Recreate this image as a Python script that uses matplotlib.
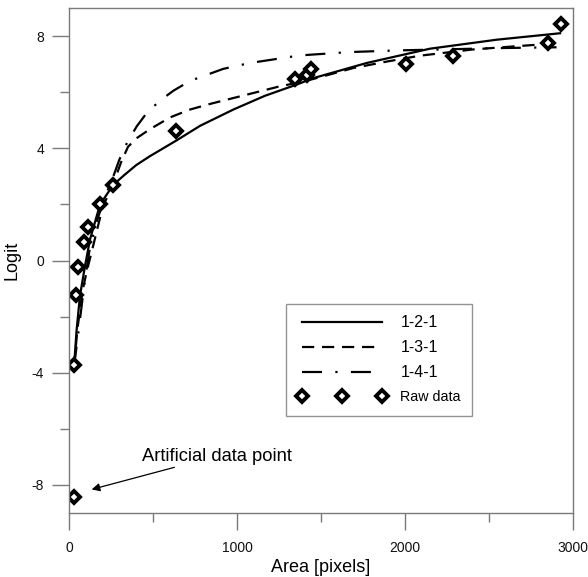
import matplotlib
matplotlib.use("Agg")
import matplotlib.pyplot as plt
from matplotlib.ticker import FixedLocator, FuncFormatter

plt.rcParams['font.family'] = ['Liberation Sans', 'DejaVu Sans']

# Raw observations (area in pixels, logit)
raw_area = [30, 30, 42, 55, 89, 115, 185, 264, 635, 1345, 1415, 1438, 2006, 2284, 2853, 2927]
raw_logit = [-8.42, -3.74, -1.23, -0.24, 0.66, 1.19, 2.02, 2.68, 4.6, 6.47, 6.62, 6.84, 7.02, 7.30, 7.75, 8.44]

# Network fits, sampled along the area axis
fit_121_area = [30, 45, 65, 95, 125, 185, 264, 330, 400, 482, 640, 780, 978, 1166, 1355, 1454,
                1772, 2149, 2546, 2923]
fit_121_logit = [-3.78, -2.5, -1.27, -0.2, 0.75, 2.0, 2.7, 3.05, 3.4, 3.72, 4.28, 4.8, 5.38, 5.87,
                 6.27, 6.5, 7.04, 7.55, 7.87, 8.1]

fit_131_area = [30, 50, 80, 105, 145, 200, 264, 310, 351, 400, 482, 601, 720, 839, 978, 1097,
                1256, 1355, 1454, 1692, 1891, 2089, 2400, 2645, 2923]
fit_131_logit = [-3.78, -2.45, -1.1, -0.4, 0.55, 1.9, 2.75, 3.5, 4.05, 4.35, 4.68, 5.1, 5.38, 5.58,
                 5.79, 5.97, 6.21, 6.33, 6.47, 6.86, 7.09, 7.3, 7.52, 7.63, 7.75]

fit_141_area = [30, 55, 90, 120, 160, 210, 264, 300, 345, 403, 464, 542, 621, 720, 918, 1077,
                1375, 1672, 1970, 2345, 2546, 2902]
fit_141_logit = [-3.78, -2.6, -0.9, 0.3, 1.3, 2.2, 3.0, 3.6, 4.19, 4.78, 5.27, 5.7, 6.05, 6.4,
                 6.83, 7.04, 7.31, 7.43, 7.49, 7.54, 7.57, 7.6]

x_major = [0, 1000, 2000, 3000]
x_minor = [500, 1500, 2500]
y_major = [-8, -4, 0, 4, 8]
y_minor = [-6, -2, 2, 6]

fig = plt.figure(figsize=(5.88, 5.77), dpi=100)
ax = fig.add_axes([69 / 588, 64 / 577, 504 / 588, 505 / 577])

lw = 1.6
ax.plot(fit_121_area, fit_121_logit, color='black', lw=lw, ls='-', label='1-2-1')
ax.plot(fit_131_area, fit_131_logit, color='black', lw=lw, ls=(0, (5.5, 3.5)), label='1-3-1')
ax.plot(fit_141_area, fit_141_logit, color='black', lw=lw, ls=(0, (9, 6, 1, 6)), label='1-4-1')
ax.plot(raw_area, raw_logit, ls='none', marker='D', ms=6.3, mew=2.8,
        mec='black', mfc='white', label='Raw data')

ax.set_xlim(0, 3000)
ax.set_ylim(-9, 9)

ax.xaxis.set_major_locator(FixedLocator(x_major))
ax.xaxis.set_minor_locator(FixedLocator(x_minor))
ax.yaxis.set_major_locator(FixedLocator(y_major))
ax.yaxis.set_minor_locator(FixedLocator(y_minor))
ax.yaxis.set_major_formatter(FuncFormatter(lambda v, p: f"{int(v)}"))
ax.xaxis.set_major_formatter(FuncFormatter(lambda v, p: f"{int(v)}"))

spine_col = '#7a7a7a'
for s in ax.spines.values():
    s.set_color(spine_col)
    s.set_linewidth(1.0)

ax.tick_params(which='major', direction='out', length=12, width=1.0, color=spine_col,
               labelsize=10, labelcolor='#111111')
ax.tick_params(which='minor', direction='out', length=6.5, width=1.0, color=spine_col)
ax.tick_params(axis='y', which='major', pad=6)
ax.tick_params(axis='x', which='major', pad=8)

ax.set_xlabel('Area [pixels]', fontsize=13, labelpad=3)
ax.set_ylabel('Logit', fontsize=13, labelpad=8)

ax.annotate('Artificial data point', xy=(135, -8.16), xytext=(433, -6.97),
            fontsize=13.2, ha='left', va='center',
            arrowprops=dict(arrowstyle='-|>', color='black', lw=0.9,
                            mutation_scale=12, shrinkA=0, shrinkB=0),
            )

leg = ax.legend(loc='upper left', bbox_to_anchor=((286 - 69) / 504, (513 - 304) / 505),
                numpoints=3, handlelength=6.2, handletextpad=1.0, fontsize=10.3,
                frameon=True, fancybox=False, borderpad=0.8, labelspacing=0.7,
                borderaxespad=0)
leg.get_frame().set_edgecolor(spine_col)
leg.get_frame().set_linewidth(1.0)
for t in leg.get_texts()[:3]:
    t.set_fontsize(11.5)

fig.savefig('out.png', dpi=100)
